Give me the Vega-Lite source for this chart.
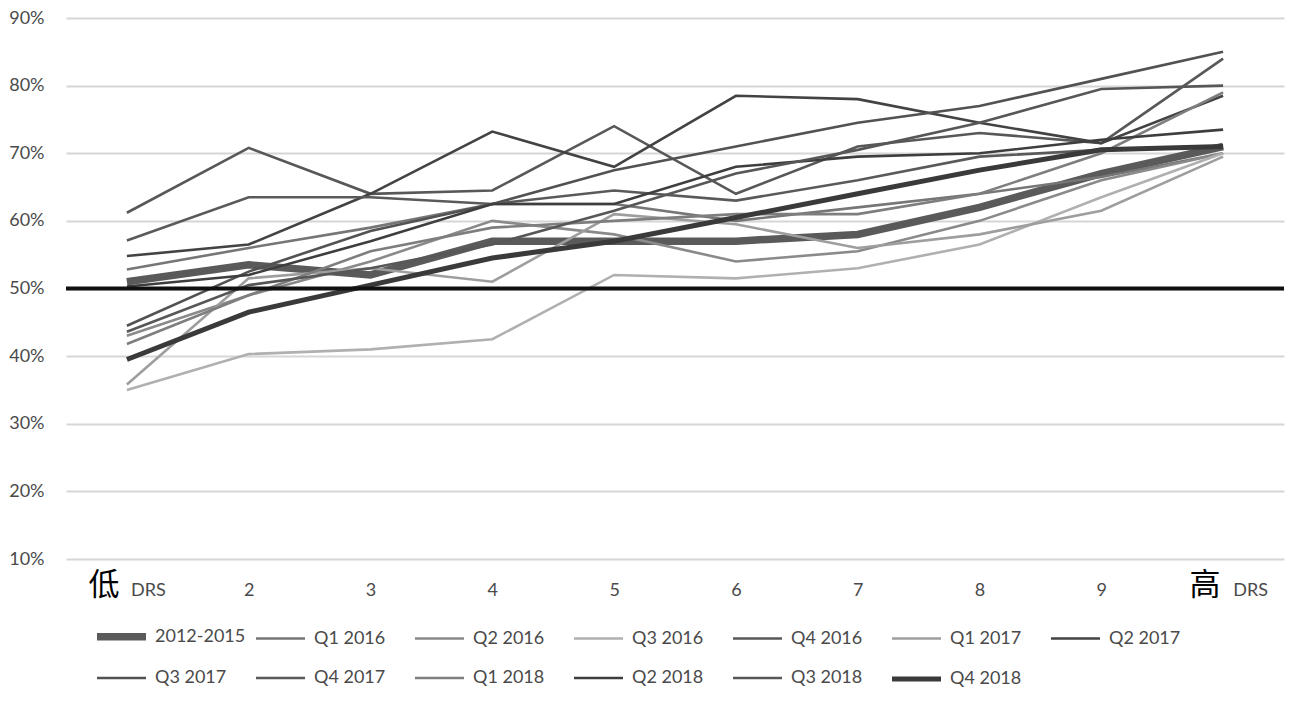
{
  "$schema": "https://vega.github.io/schema/vega-lite/v6.json",
  "autosize": "none",
  "width": 1218,
  "height": 541,
  "padding": {"left": 66, "top": 18, "right": 20, "bottom": 145},
  "background": "white",
  "config": {
    "view": {"stroke": null},
    "font": "Lato",
    "axis": {"labelFont": "Lato", "labelColor": "#4a4a4a", "labelFontSize": 18},
    "legend": {"labelFont": "Lato", "labelColor": "#4a4a4a", "labelFontSize": 18}
  },
  "datasets": {
    "series": [
      {"s":"2012-2015","x":"低 DRS","v":0.51},{"s":"2012-2015","x":"2","v":0.535},{"s":"2012-2015","x":"3","v":0.52},{"s":"2012-2015","x":"4","v":0.57},{"s":"2012-2015","x":"5","v":0.57},{"s":"2012-2015","x":"6","v":0.57},{"s":"2012-2015","x":"7","v":0.58},{"s":"2012-2015","x":"8","v":0.62},{"s":"2012-2015","x":"9","v":0.67},{"s":"2012-2015","x":"高 DRS","v":0.71},
      {"s":"Q1 2016","x":"低 DRS","v":0.528},{"s":"Q1 2016","x":"2","v":0.56},{"s":"Q1 2016","x":"3","v":0.59},{"s":"Q1 2016","x":"4","v":0.625},{"s":"Q1 2016","x":"5","v":0.625},{"s":"Q1 2016","x":"6","v":0.60},{"s":"Q1 2016","x":"7","v":0.62},{"s":"Q1 2016","x":"8","v":0.64},{"s":"Q1 2016","x":"9","v":0.665},{"s":"Q1 2016","x":"高 DRS","v":0.70},
      {"s":"Q2 2016","x":"低 DRS","v":0.43},{"s":"Q2 2016","x":"2","v":0.49},{"s":"Q2 2016","x":"3","v":0.54},{"s":"Q2 2016","x":"4","v":0.60},{"s":"Q2 2016","x":"5","v":0.58},{"s":"Q2 2016","x":"6","v":0.54},{"s":"Q2 2016","x":"7","v":0.555},{"s":"Q2 2016","x":"8","v":0.60},{"s":"Q2 2016","x":"9","v":0.66},{"s":"Q2 2016","x":"高 DRS","v":0.70},
      {"s":"Q3 2016","x":"低 DRS","v":0.35},{"s":"Q3 2016","x":"2","v":0.403},{"s":"Q3 2016","x":"3","v":0.41},{"s":"Q3 2016","x":"4","v":0.425},{"s":"Q3 2016","x":"5","v":0.52},{"s":"Q3 2016","x":"6","v":0.515},{"s":"Q3 2016","x":"7","v":0.53},{"s":"Q3 2016","x":"8","v":0.565},{"s":"Q3 2016","x":"9","v":0.635},{"s":"Q3 2016","x":"高 DRS","v":0.70},
      {"s":"Q4 2016","x":"低 DRS","v":0.612},{"s":"Q4 2016","x":"2","v":0.708},{"s":"Q4 2016","x":"3","v":0.64},{"s":"Q4 2016","x":"4","v":0.645},{"s":"Q4 2016","x":"5","v":0.74},{"s":"Q4 2016","x":"6","v":0.64},{"s":"Q4 2016","x":"7","v":0.71},{"s":"Q4 2016","x":"8","v":0.73},{"s":"Q4 2016","x":"9","v":0.715},{"s":"Q4 2016","x":"高 DRS","v":0.84},
      {"s":"Q1 2017","x":"低 DRS","v":0.358},{"s":"Q1 2017","x":"2","v":0.515},{"s":"Q1 2017","x":"3","v":0.53},{"s":"Q1 2017","x":"4","v":0.51},{"s":"Q1 2017","x":"5","v":0.61},{"s":"Q1 2017","x":"6","v":0.595},{"s":"Q1 2017","x":"7","v":0.56},{"s":"Q1 2017","x":"8","v":0.58},{"s":"Q1 2017","x":"9","v":0.615},{"s":"Q1 2017","x":"高 DRS","v":0.695},
      {"s":"Q2 2017","x":"低 DRS","v":0.548},{"s":"Q2 2017","x":"2","v":0.565},{"s":"Q2 2017","x":"3","v":0.64},{"s":"Q2 2017","x":"4","v":0.732},{"s":"Q2 2017","x":"5","v":0.68},{"s":"Q2 2017","x":"6","v":0.785},{"s":"Q2 2017","x":"7","v":0.78},{"s":"Q2 2017","x":"8","v":0.745},{"s":"Q2 2017","x":"9","v":0.715},{"s":"Q2 2017","x":"高 DRS","v":0.785},
      {"s":"Q3 2017","x":"低 DRS","v":0.445},{"s":"Q3 2017","x":"2","v":0.525},{"s":"Q3 2017","x":"3","v":0.585},{"s":"Q3 2017","x":"4","v":0.625},{"s":"Q3 2017","x":"5","v":0.675},{"s":"Q3 2017","x":"6","v":0.71},{"s":"Q3 2017","x":"7","v":0.745},{"s":"Q3 2017","x":"8","v":0.77},{"s":"Q3 2017","x":"9","v":0.81},{"s":"Q3 2017","x":"高 DRS","v":0.85},
      {"s":"Q4 2017","x":"低 DRS","v":0.571},{"s":"Q4 2017","x":"2","v":0.635},{"s":"Q4 2017","x":"3","v":0.635},{"s":"Q4 2017","x":"4","v":0.625},{"s":"Q4 2017","x":"5","v":0.645},{"s":"Q4 2017","x":"6","v":0.63},{"s":"Q4 2017","x":"7","v":0.66},{"s":"Q4 2017","x":"8","v":0.695},{"s":"Q4 2017","x":"9","v":0.705},{"s":"Q4 2017","x":"高 DRS","v":0.71},
      {"s":"Q1 2018","x":"低 DRS","v":0.418},{"s":"Q1 2018","x":"2","v":0.49},{"s":"Q1 2018","x":"3","v":0.555},{"s":"Q1 2018","x":"4","v":0.59},{"s":"Q1 2018","x":"5","v":0.60},{"s":"Q1 2018","x":"6","v":0.61},{"s":"Q1 2018","x":"7","v":0.61},{"s":"Q1 2018","x":"8","v":0.64},{"s":"Q1 2018","x":"9","v":0.70},{"s":"Q1 2018","x":"高 DRS","v":0.79},
      {"s":"Q2 2018","x":"低 DRS","v":0.503},{"s":"Q2 2018","x":"2","v":0.52},{"s":"Q2 2018","x":"3","v":0.57},{"s":"Q2 2018","x":"4","v":0.625},{"s":"Q2 2018","x":"5","v":0.625},{"s":"Q2 2018","x":"6","v":0.68},{"s":"Q2 2018","x":"7","v":0.695},{"s":"Q2 2018","x":"8","v":0.70},{"s":"Q2 2018","x":"9","v":0.72},{"s":"Q2 2018","x":"高 DRS","v":0.735},
      {"s":"Q3 2018","x":"低 DRS","v":0.436},{"s":"Q3 2018","x":"2","v":0.505},{"s":"Q3 2018","x":"3","v":0.53},{"s":"Q3 2018","x":"4","v":0.565},{"s":"Q3 2018","x":"5","v":0.615},{"s":"Q3 2018","x":"6","v":0.67},{"s":"Q3 2018","x":"7","v":0.705},{"s":"Q3 2018","x":"8","v":0.745},{"s":"Q3 2018","x":"9","v":0.795},{"s":"Q3 2018","x":"高 DRS","v":0.80},
      {"s":"Q4 2018","x":"低 DRS","v":0.395},{"s":"Q4 2018","x":"2","v":0.465},{"s":"Q4 2018","x":"3","v":0.505},{"s":"Q4 2018","x":"4","v":0.545},{"s":"Q4 2018","x":"5","v":0.57},{"s":"Q4 2018","x":"6","v":0.605},{"s":"Q4 2018","x":"7","v":0.64},{"s":"Q4 2018","x":"8","v":0.675},{"s":"Q4 2018","x":"9","v":0.705},{"s":"Q4 2018","x":"高 DRS","v":0.71}
    ],
    "ends": [
      {"x": "低 DRS", "t": "低"},
      {"x": "高 DRS", "t": "高"}
    ]
  },
  "layer": [
    {
      "data": {"name": "series"},
      "mark": {"type": "line", "strokeJoin": "miter"},
      "encoding": {
        "x": {
          "field": "x", "type": "ordinal",
          "sort": ["低 DRS","2","3","4","5","6","7","8","9","高 DRS"],
          "scale": {"type": "point", "padding": 0.5},
          "axis": {
            "title": null, "domain": false, "ticks": false, "grid": false,
            "labelAngle": 0, "labelPadding": 22,
            "labelExpr": "datum.value == '低 DRS' || datum.value == '高 DRS' ? 'DRS' : datum.label",
            "labelOffset": {"condition": [{"test": "datum.value == '低 DRS'", "value": 21}, {"test": "datum.value == '高 DRS'", "value": 27}], "value": 0}
          }
        },
        "y": {
          "field": "v", "type": "quantitative",
          "scale": {"domain": [0.1, 0.9], "nice": false, "zero": false},
          "axis": {
            "title": null, "domain": false, "ticks": false,
            "values": [0.1,0.2,0.3,0.4,0.5,0.6,0.7,0.8,0.9],
            "format": ".0%", "labelPadding": 22,
            "gridColor": "#d6d6d6", "gridWidth": 2.2
          }
        },
        "color": {
          "field": "s", "type": "nominal",
          "scale": {
            "domain": ["2012-2015","Q1 2016","Q2 2016","Q3 2016","Q4 2016","Q1 2017","Q2 2017","Q3 2017","Q4 2017","Q1 2018","Q2 2018","Q3 2018","Q4 2018"],
            "range": ["#5a5a5a","#767676","#8a8a8a","#b0b0b0","#585858","#9e9e9e","#434343","#525252","#5a5a5a","#7e7e7e","#3e3e3e","#575757","#3a3a3a"]
          },
          "legend": {
            "title": null, "orient": "none", "legendX": 27, "legendY": 590,
            "direction": "horizontal", "columns": 7, "gridAlign": "all",
            "symbolType": "stroke", "symbolSize": 2401, "labelOffset": 5,
            "columnPadding": 0, "rowPadding": -8, "padding": 0
          }
        },
        "strokeWidth": {
          "field": "s", "type": "nominal",
          "scale": {
            "type": "ordinal",
            "domain": ["2012-2015","Q1 2016","Q2 2016","Q3 2016","Q4 2016","Q1 2017","Q2 2017","Q3 2017","Q4 2017","Q1 2018","Q2 2018","Q3 2018","Q4 2018"],
            "range": [7.5,2.6,2.6,2.6,2.6,2.6,2.6,2.6,2.6,2.6,2.6,2.6,5]
          },
          "legend": {
            "title": null, "orient": "none", "legendX": 27, "legendY": 590,
            "direction": "horizontal", "columns": 7, "gridAlign": "all",
            "symbolType": "stroke", "symbolSize": 2401, "labelOffset": 5,
            "columnPadding": 0, "rowPadding": -8, "padding": 0
          }
        }
      }
    },
    {
      "data": {"values": [{}]},
      "mark": {"type": "rule", "color": "#111111", "strokeWidth": 4},
      "encoding": {"y": {"datum": 0.5, "type": "quantitative"}}
    },
    {
      "data": {"name": "ends"},
      "mark": {"type": "text", "font": "Noto Sans CJK SC", "fontSize": 31, "color": "#000000", "baseline": "middle", "align": "center", "dx": {"expr": "datum.t == '低' ? -23 : -18"}},
      "encoding": {
        "x": {"field": "x", "type": "ordinal", "sort": ["低 DRS","2","3","4","5","6","7","8","9","高 DRS"]},
        "y": {"datum": 0.06, "type": "quantitative"},
        "text": {"field": "t"}
      }
    }
  ]
}
